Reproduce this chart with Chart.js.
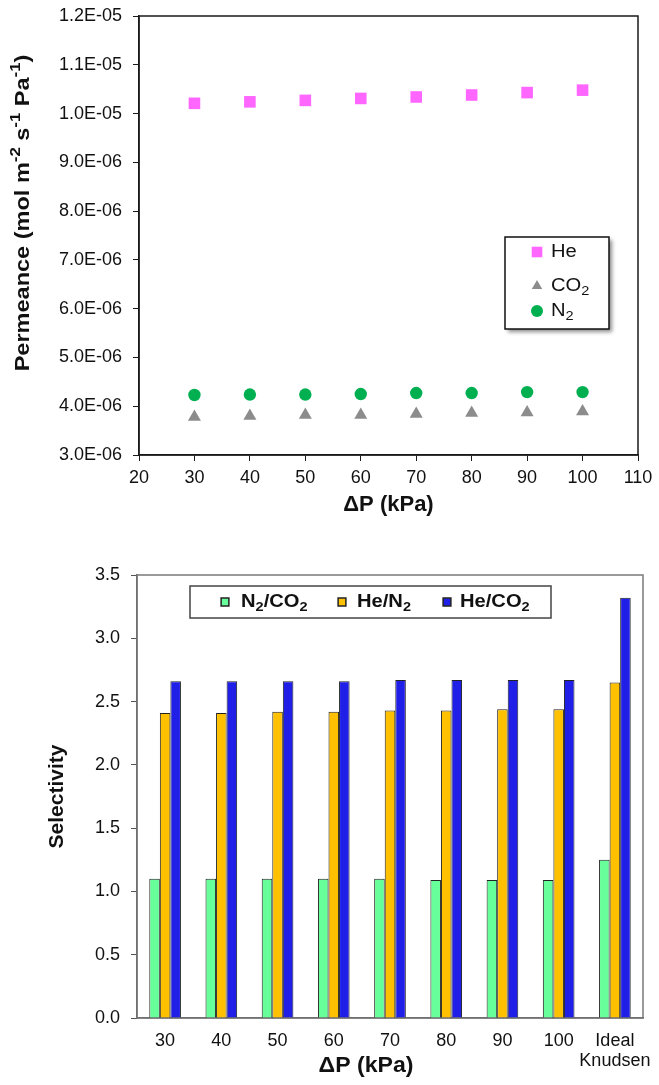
<!DOCTYPE html>
<html>
<head>
<meta charset="utf-8">
<script src="https://cdn.jsdelivr.net/npm/chart.js@4/dist/chart.umd.min.js"></script>
<style>
  body { margin: 0; background: #fff; }
  #top { position: absolute; left: 0; top: 0; }
  #bottom { position: absolute; left: 0; top: 530px; }
</style>
</head>
<body>
<canvas id="top" width="659" height="530"></canvas>
<canvas id="bottom" width="659" height="555"></canvas>
<script>
// permeance vs pressure difference
const pressures = [30, 40, 50, 60, 70, 80, 90, 100];
const heVals = [1.021e-5, 1.024e-5, 1.027e-5, 1.031e-5, 1.034e-5, 1.038e-5, 1.043e-5, 1.048e-5];
const co2Vals = [3.78e-6, 3.80e-6, 3.82e-6, 3.82e-6, 3.84e-6, 3.86e-6, 3.87e-6, 3.89e-6];
const n2Vals = [4.23e-6, 4.24e-6, 4.24e-6, 4.25e-6, 4.27e-6, 4.27e-6, 4.29e-6, 4.29e-6];

// selectivity
const selCategories = ['30', '40', '50', '60', '70', '80', '90', '100', ['Ideal', 'Knudsen']];
const selN2CO2 = [1.10, 1.10, 1.10, 1.10, 1.10, 1.09, 1.09, 1.09, 1.25];
const selHeN2 = [2.41, 2.41, 2.42, 2.42, 2.43, 2.43, 2.44, 2.44, 2.65];
const selHeCO2 = [2.66, 2.66, 2.66, 2.66, 2.67, 2.67, 2.67, 2.67, 3.32];

const FONT = "'Liberation Sans', Arial, sans-serif";

function toPts(xs, ys) {
  return xs.map((x, i) => ({ x: x, y: ys[i] }));
}

// 1.2E-05 style labels
function sci(v) {
  const parts = v.toExponential(1).split('e');
  const e = parseInt(parts[1]);
  return parts[0] + 'E' + (e < 0 ? '-' : '+') + String(Math.abs(e)).padStart(2, '0');
}

// split a label into normal / sub / sup runs
const SUB = { '\u2080': '0', '\u2081': '1', '\u2082': '2', '\u2083': '3', '\u2084': '4' };
const SUP = { '\u207B': '-', '\u00B9': '1', '\u00B2': '2', '\u00B3': '3' };
function runs(str) {
  const out = [];
  for (const ch of str) {
    let kind = 'n', c = ch;
    if (SUB[ch]) { kind = 'sub'; c = SUB[ch]; }
    else if (SUP[ch]) { kind = 'sup'; c = SUP[ch]; }
    const last = out[out.length - 1];
    if (last && last.kind === kind) last.t += c;
    else out.push({ kind: kind, t: c });
  }
  return out;
}

// text with sub/superscripts, sx = horizontal stretch
function drawRich(ctx, str, x, y, size, weight, align, sx) {
  sx = sx || 1;
  const parts = runs(str);
  const fontFor = (k) => (weight ? weight + ' ' : '') + (k === 'n' ? size : Math.round(size * 0.7)) + 'px ' + FONT;
  let total = 0;
  parts.forEach(p => { ctx.font = fontFor(p.kind); p.w = ctx.measureText(p.t).width; total += p.w; });
  const start = align === 'center' ? x - total * sx / 2 : x;
  ctx.save();
  ctx.translate(start, y);
  ctx.scale(sx, 1);
  ctx.textAlign = 'left';
  ctx.textBaseline = 'middle';
  let cx = 0;
  parts.forEach(p => {
    ctx.font = fontFor(p.kind);
    let dy = 0;
    if (p.kind === 'sub') dy = size * 0.3;
    if (p.kind === 'sup') dy = -size * 0.33;
    ctx.fillText(p.t, cx, dy);
    cx += p.w;
  });
  ctx.restore();
}

// box round the plot area
const framePlugin = {
  id: 'frame',
  beforeDatasetsDraw(chart, args, opts) {
    const a = chart.chartArea;
    const ctx = chart.ctx;
    ctx.save();
    ctx.strokeStyle = opts.color;
    ctx.lineWidth = opts.width;
    ctx.strokeRect(a.left, a.top, a.right - a.left, a.bottom - a.top);
    ctx.restore();
  }
};

// axis titles placed by hand (off-centre in the original)
const axisTitles = {
  id: 'axisTitles',
  afterDraw(chart, args, opts) {
    if (!opts.list) return;
    const ctx = chart.ctx;
    opts.list.forEach(t => {
      ctx.save();
      ctx.fillStyle = '#111';
      ctx.translate(t.x, t.y);
      if (t.vertical) ctx.rotate(-Math.PI / 2);
      drawRich(ctx, t.text, 0, 0, t.size, 'bold', 'center', t.sx);
      ctx.restore();
    });
  }
};

// legend drawn in a box at a fixed place
const boxLegend = {
  id: 'boxLegend',
  afterDraw(chart, args, opts) {
    if (!opts.box) return;
    const ctx = chart.ctx;
    const b = opts.box;
    ctx.save();
    if (opts.shadow) {
      ctx.shadowColor = 'rgba(0,0,0,0.45)';
      ctx.shadowBlur = 4;
      ctx.shadowOffsetX = 3;
      ctx.shadowOffsetY = 3;
    }
    ctx.fillStyle = '#fff';
    ctx.fillRect(b.x, b.y, b.w, b.h);
    ctx.shadowColor = 'transparent';
    ctx.strokeStyle = opts.borderColor;
    ctx.lineWidth = 1.5;
    ctx.strokeRect(b.x, b.y, b.w, b.h);
    chart.data.datasets.forEach((ds, i) => {
      const p = opts.items[i];
      ctx.fillStyle = ds.backgroundColor;
      ctx.strokeStyle = opts.markerBorder || ds.backgroundColor;
      Chart.helpers.drawPoint(ctx, {
        pointStyle: opts.markerStyles ? opts.markerStyles[i] : ds.pointStyle,
        radius: opts.markerRadius[i],
        rotation: 0,
        borderWidth: opts.markerBorder ? 1 : 0
      }, p.mx, p.y);
      ctx.fillStyle = '#111';
      drawRich(ctx, ds.label, p.tx, p.y, opts.size, opts.weight, 'left', opts.sx);
    });
    ctx.restore();
  }
};

Chart.register(framePlugin, axisTitles, boxLegend);

function noPadX(scale) { scale.paddingLeft = 0; scale.paddingRight = 0; }
function noPadY(scale) { scale.paddingTop = 0; scale.paddingBottom = 0; }

new Chart(document.getElementById('top'), {
  type: 'scatter',
  data: {
    datasets: [
      { label: 'He', data: toPts(pressures, heVals), pointStyle: 'rect', radius: 8.2,
        backgroundColor: '#FF66FF', borderColor: '#FF66FF', borderWidth: 0 },
      { label: 'CO\u2082', data: toPts(pressures, co2Vals), pointStyle: 'triangle', radius: 7.5,
        backgroundColor: '#8C8C8C', borderColor: '#8C8C8C', borderWidth: 0 },
      { label: 'N\u2082', data: toPts(pressures, n2Vals), pointStyle: 'circle', radius: 6.2,
        backgroundColor: '#00B050', borderColor: '#00B050', borderWidth: 0 }
    ]
  },
  options: {
    responsive: false,
    animation: false,
    devicePixelRatio: 1,
    layout: { padding: { top: 16, right: 21, left: 0, bottom: 0 } },
    plugins: {
      legend: { display: false },
      tooltip: { enabled: false },
      frame: { color: '#1a1a1a', width: 1.5 },
      axisTitles: {
        list: [
          { text: 'Permeance (mol m\u207B\u00B2 s\u207B\u00B9 Pa\u207B\u00B9)', x: 23, y: 213, size: 21, sx: 1.12, vertical: true }
        ]
      },
      boxLegend: {
        box: { x: 505, y: 237, w: 104, h: 92 },
        shadow: true,
        borderColor: '#111',
        size: 18,
        weight: '',
        sx: 1.12,
        markerRadius: [7.5, 6, 6],
        items: [
          { mx: 537, tx: 551, y: 252 },
          { mx: 537, tx: 551, y: 286 },
          { mx: 537, tx: 551, y: 311 }
        ]
      }
    },
    scales: {
      x: {
        type: 'linear',
        min: 20, max: 110,
        ticks: { stepSize: 10, color: '#111', padding: 6, font: { family: FONT, size: 18 } },
        grid: { drawOnChartArea: false, drawTicks: true, tickLength: 6, color: '#1a1a1a' },
        border: { display: true, color: '#1a1a1a', width: 1.5 },
        title: { display: true, text: '\u0394P (kPa)', color: '#111',
                 font: { family: FONT, size: 22, weight: 'bold' }, padding: { top: 0, bottom: 12 } },
        afterFit(scale) { scale.height = 75; noPadX(scale); }
      },
      y: {
        min: 3e-6, max: 1.2e-5,
        ticks: { stepSize: 1e-6, color: '#111', padding: 11, font: { family: FONT, size: 18 },
                 callback: (v) => sci(v) },
        grid: { drawOnChartArea: false, drawTicks: true, tickLength: 6, color: '#1a1a1a' },
        border: { display: true, color: '#1a1a1a', width: 1.5 },
        title: { display: false },
        afterFit(scale) { scale.width = 139; noPadY(scale); }
      }
    }
  }
});

new Chart(document.getElementById('bottom'), {
  type: 'bar',
  data: {
    labels: selCategories,
    datasets: [
      { label: 'N\u2082/CO\u2082', data: selN2CO2, backgroundColor: '#66FF99', borderColor: '#222', borderWidth: 1 },
      { label: 'He/N\u2082', data: selHeN2, backgroundColor: '#FFC000', borderColor: '#222', borderWidth: 1 },
      { label: 'He/CO\u2082', data: selHeCO2, backgroundColor: '#1F1FE8', borderColor: '#222', borderWidth: 1 }
    ]
  },
  options: {
    responsive: false,
    animation: false,
    devicePixelRatio: 1,
    layout: { padding: { top: 45, right: 16, left: 0, bottom: 0 } },
    datasets: { bar: { categoryPercentage: 0.563, barPercentage: 1.0 } },
    plugins: {
      legend: { display: false },
      tooltip: { enabled: false },
      frame: { color: '#7a7a7a', width: 1.5 },
      axisTitles: {
        list: [
          { text: '\u0394P (kPa)', x: 366, y: 536, size: 22, sx: 1.05, vertical: false }
        ]
      },
      boxLegend: {
        box: { x: 190, y: 56, w: 361, h: 32 },
        shadow: false,
        borderColor: '#444',
        size: 18,
        weight: 'bold',
        sx: 1.12,
        markerStyles: ['rect', 'rect', 'rect'],
        markerRadius: [5.5, 5.5, 5.5],
        markerBorder: '#222',
        items: [
          { mx: 225, tx: 241, y: 72 },
          { mx: 342, tx: 357, y: 72 },
          { mx: 447, tx: 460, y: 72 }
        ]
      }
    },
    scales: {
      x: {
        ticks: { color: '#111', padding: 5, maxRotation: 0, minRotation: 0, autoSkip: false,
                 font: { family: FONT, size: 18, lineHeight: 1.12 } },
        grid: { display: false },
        border: { display: true, color: '#555', width: 1.5 },
        title: { display: false },
        afterFit(scale) { scale.height = 67; noPadX(scale); }
      },
      y: {
        min: 0, max: 3.5,
        ticks: { stepSize: 0.5, color: '#111', padding: 11, font: { family: FONT, size: 18 },
                 callback: (v) => v.toFixed(1) },
        grid: { drawOnChartArea: false, drawTicks: true, tickLength: 6, color: '#555' },
        border: { display: true, color: '#555', width: 1.5 },
        title: { display: true, text: 'Selectivity', color: '#111',
                 font: { family: FONT, size: 21, weight: 'bold' }, padding: { top: 45, bottom: 0 } },
        afterFit(scale) { scale.width = 137; noPadY(scale); }
      }
    }
  }
});
</script>
</body>
</html>
